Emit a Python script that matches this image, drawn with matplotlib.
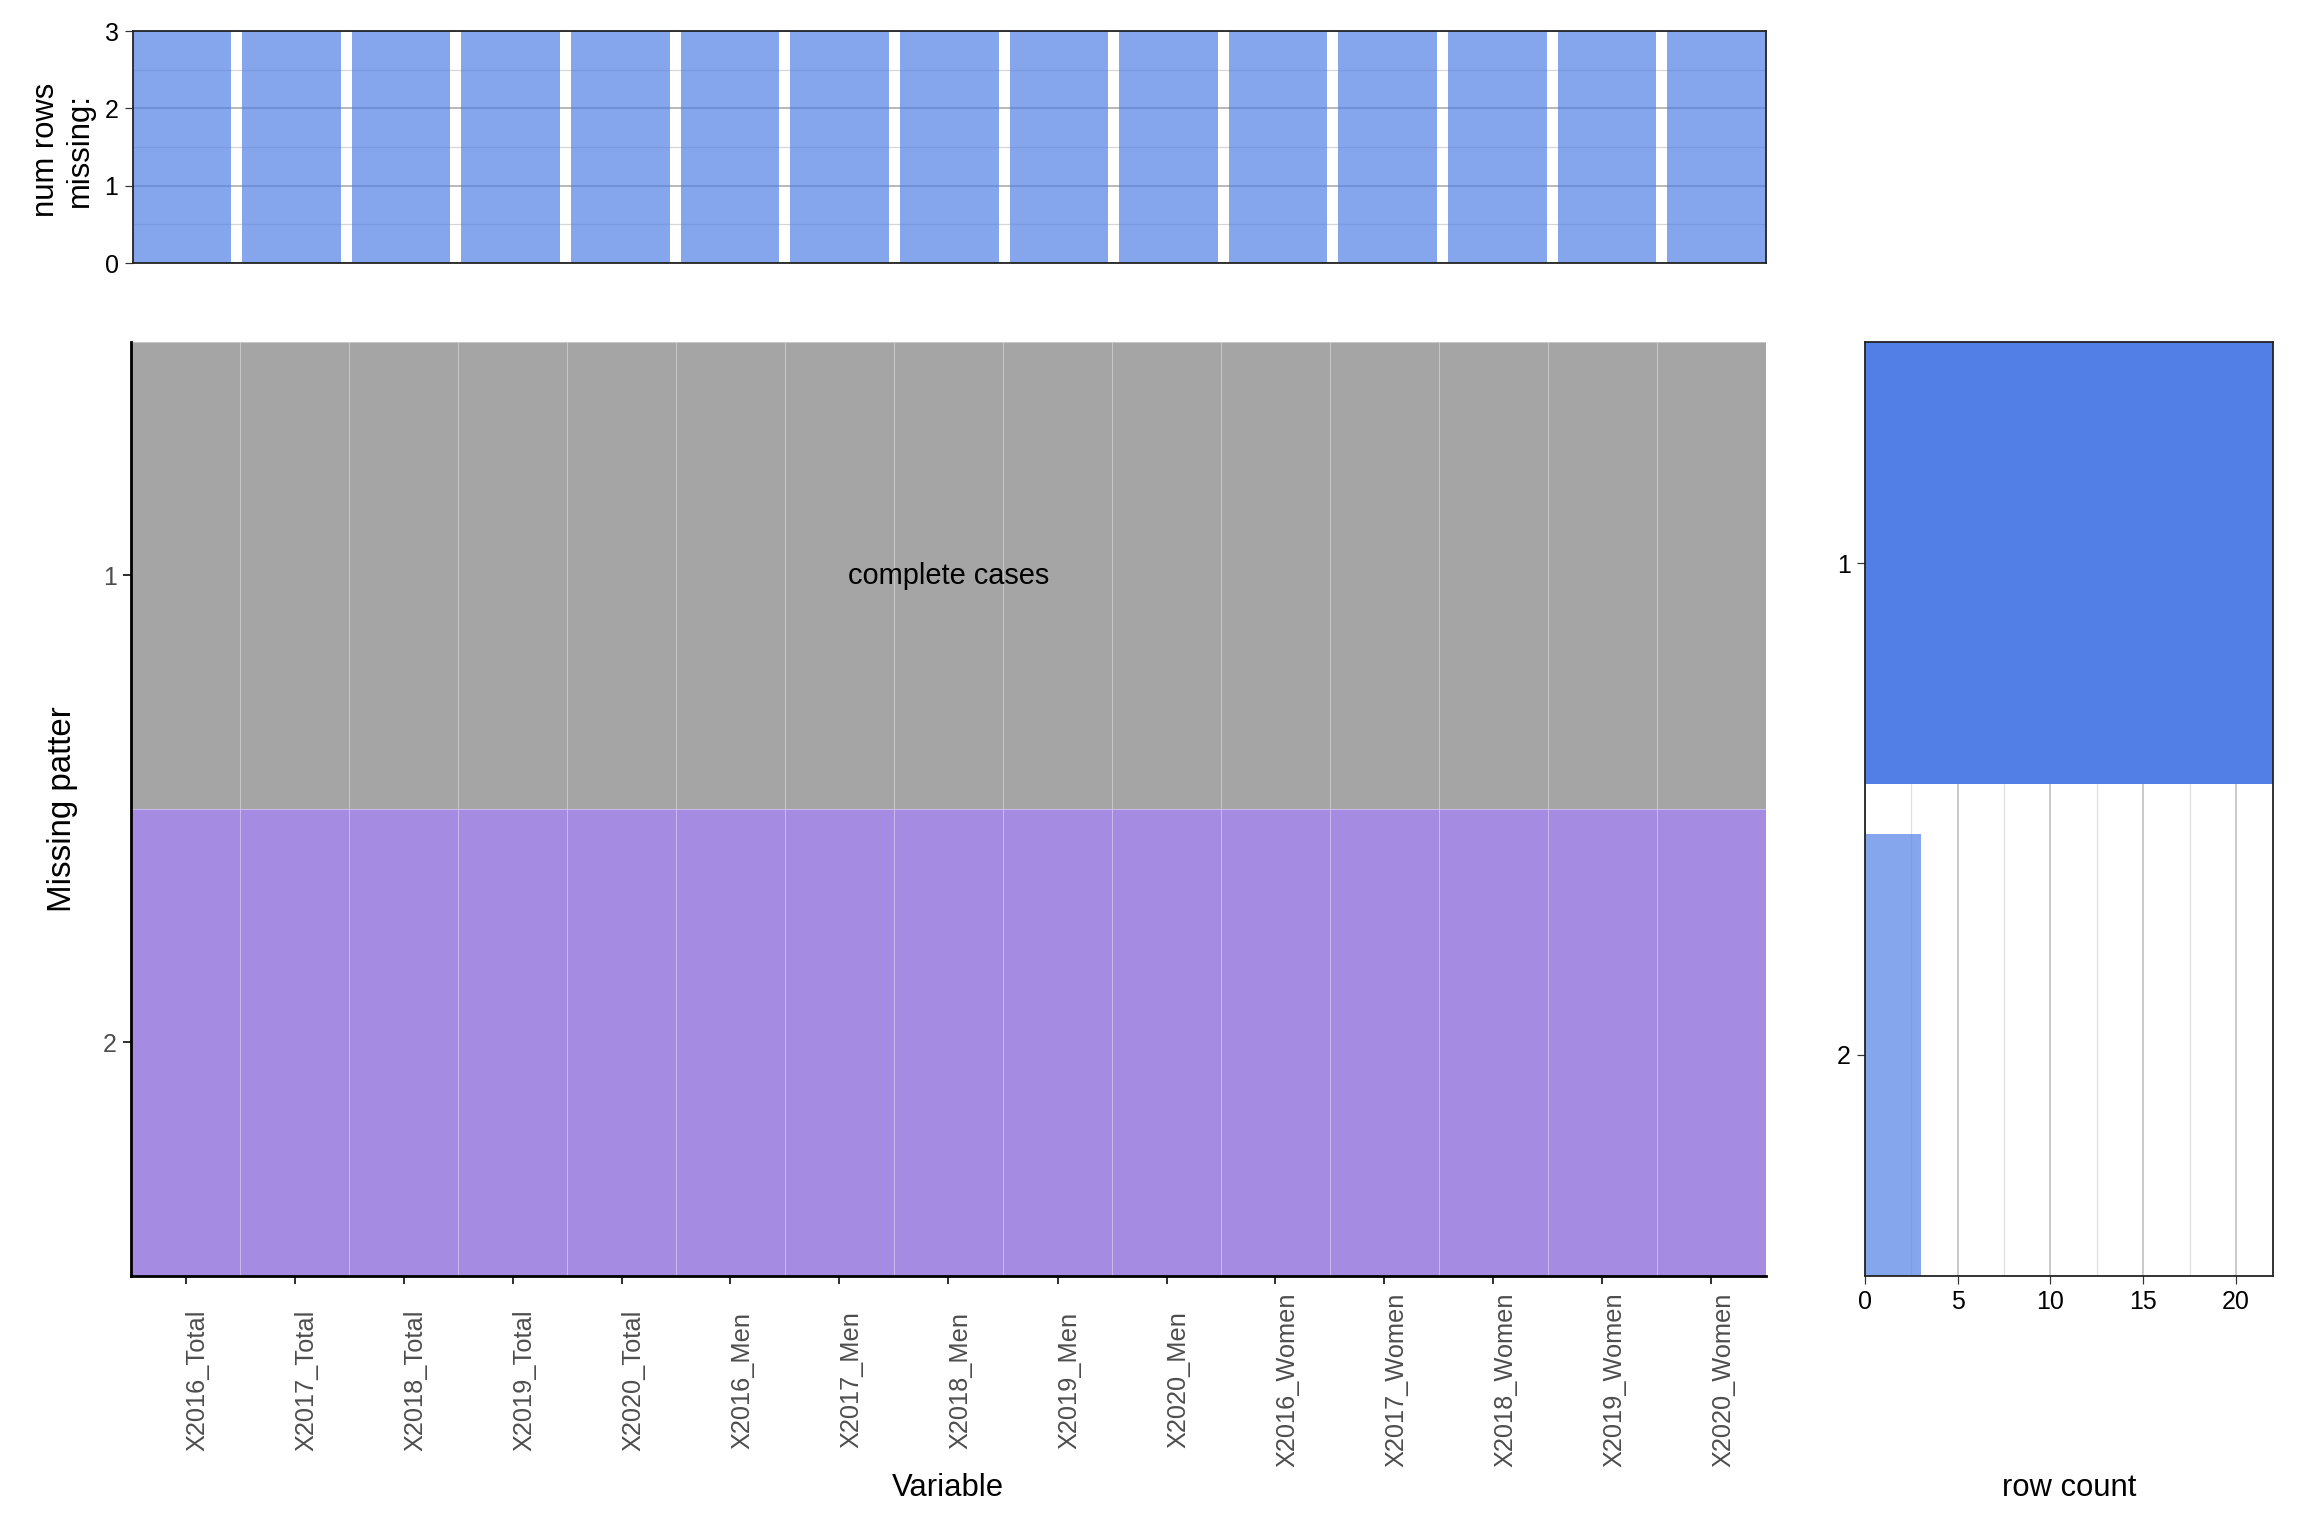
import matplotlib
matplotlib.use("Agg")
import matplotlib.pyplot as plt
from matplotlib.colors import ListedColormap
from matplotlib.ticker import MultipleLocator
import numpy as np

plt.rcParams["font.family"] = ["Liberation Sans", "DejaVu Sans"]

# --- data ---
variables = ["X2016_Total", "X2017_Total", "X2018_Total", "X2019_Total", "X2020_Total",
             "X2016_Men", "X2017_Men", "X2018_Men", "X2019_Men", "X2020_Men",
             "X2016_Women", "X2017_Women", "X2018_Women", "X2019_Women", "X2020_Women"]
rows_missing = [3, 3, 3, 3, 3, 3, 3, 3, 3, 3, 3, 3, 3, 3, 3]
patterns = [1, 2]
pattern_counts = [22, 3]
# 0 = observed (complete cases), 1 = missing
pattern_matrix = [
    [0, 0, 0, 0, 0, 0, 0, 0, 0, 0, 0, 0, 0, 0, 0],
    [1, 1, 1, 1, 1, 1, 1, 1, 1, 1, 1, 1, 1, 1, 1],
]

BLUE = "#527FE6"
W, H = 2304, 1536


def fig_rect(left, top, right, bottom):
    return [left / W, 1 - bottom / H, (right - left) / W, (bottom - top) / H]


fig = plt.figure(figsize=(16, 10.6667), dpi=144)

# ---- top: number of rows missing per variable ----
ax_top = fig.add_axes(fig_rect(132.5, 31, 1766, 263))
x = np.arange(len(variables))
ax_top.bar(x, rows_missing, width=0.9, color=BLUE, alpha=0.7, zorder=2)
ax_top.set_xlim(-0.45, len(variables) - 0.55)
ax_top.set_ylim(0, 3)
ax_top.yaxis.set_major_locator(MultipleLocator(1))
ax_top.yaxis.set_minor_locator(MultipleLocator(0.5))
ax_top.grid(axis="y", which="major", color="#A8A8A8", linewidth=0.8, zorder=1)
ax_top.grid(axis="y", which="minor", color="#D6D6D6", linewidth=0.6, zorder=1)
ax_top.set_xticks([])
ax_top.tick_params(axis="y", which="major", length=4, width=0.6, color="#333333",
                   labelsize=12.5, labelcolor="black", pad=3)
ax_top.tick_params(axis="y", which="minor", length=0)
for s in ax_top.spines.values():
    s.set_linewidth(0.9)
    s.set_color("#222222")
    s.set_zorder(3)
fig.text(63 / W, 1 - 150 / H, "num rows\nmissing:", rotation=90, ha="center", va="center",
         fontsize=15.5, linespacing=1.15)

# ---- main: missing pattern tiles ----
ax_main = fig.add_axes(fig_rect(131, 342, 1766, 1276))
cmap = ListedColormap(["#A5A5A5", "#A68BE2"])
xe = np.arange(len(variables) + 1) - 0.5
ye = np.arange(len(patterns) + 1) + 0.5
ax_main.pcolormesh(xe, ye, np.array(pattern_matrix), cmap=cmap, vmin=0, vmax=1,
                   edgecolors=(1, 1, 1, 0.4), linewidth=0.5)
ax_main.set_xlim(-0.5, len(variables) - 0.5)
ax_main.set_ylim(len(patterns) + 0.5, 0.5)
ax_main.set_yticks(patterns)
ax_main.set_yticklabels([str(p) for p in patterns])
ax_main.set_xticks(x)
ax_main.set_xticklabels(variables, rotation=90, ha="left", va="center")
ax_main.tick_params(axis="x", length=4, width=1.0, color="#333333", labelsize=12.7,
                    labelcolor="#4D4D4D", pad=48)
ax_main.tick_params(axis="y", length=4, width=1.0, color="#333333", labelsize=12.5,
                    labelcolor="#4D4D4D", pad=3)
ax_main.spines["top"].set_visible(False)
ax_main.spines["right"].set_visible(False)
ax_main.spines["left"].set_linewidth(1.4)
ax_main.spines["bottom"].set_linewidth(1.4)
ax_main.text((len(variables) - 1) / 2, patterns[0], "complete cases", ha="center", va="center",
             fontsize=14.5, color="black")
fig.text(62 / W, 1 - 809 / H, "Missing patter", rotation=90, ha="center", va="center",
         fontsize=16.5)
fig.text(948 / W, 1 - 1488 / H, "Variable", ha="center", va="center", fontsize=15.5)

# ---- right: row count per pattern ----
ax_r = fig.add_axes(fig_rect(1865, 342, 2273, 1276))
ax_r.barh(patterns[0], pattern_counts[0], height=0.9, color=BLUE, zorder=2)
ax_r.barh(patterns[1], pattern_counts[1], height=0.9, color=BLUE, alpha=0.7, zorder=2)
ax_r.set_xlim(0, 22)
ax_r.set_ylim(2.45, 0.55)
ax_r.set_yticks(patterns)
ax_r.set_yticklabels([str(p) for p in patterns])
ax_r.xaxis.set_major_locator(MultipleLocator(5))
ax_r.xaxis.set_minor_locator(MultipleLocator(2.5))
ax_r.grid(axis="x", which="major", color="#BDBDBD", linewidth=0.8, zorder=1)
ax_r.grid(axis="x", which="minor", color="#E0E0E0", linewidth=0.6, zorder=1)
ax_r.tick_params(which="major", length=4, width=0.6, color="#333333", labelsize=12.5,
                 labelcolor="black", pad=3)
ax_r.tick_params(which="minor", length=0)
for s in ax_r.spines.values():
    s.set_linewidth(0.9)
    s.set_color("#222222")
    s.set_zorder(3)
fig.text(2069 / W, 1 - 1488 / H, "row count", ha="center", va="center", fontsize=15.5)

fig.savefig("out.png", dpi=144, facecolor="white")
